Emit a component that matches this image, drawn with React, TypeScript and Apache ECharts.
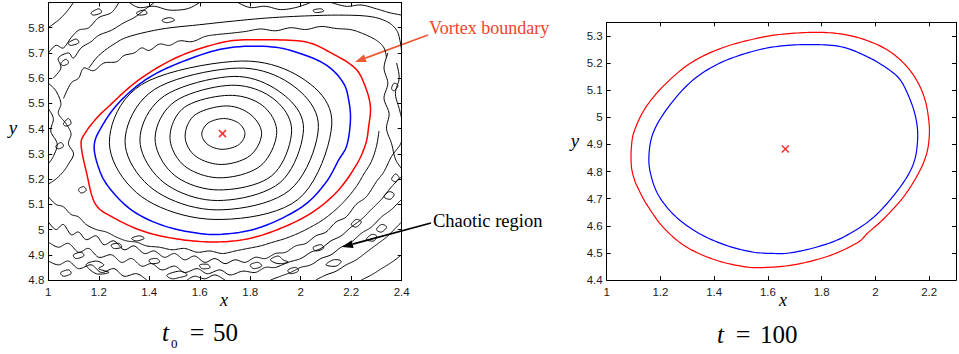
import React, { useEffect, useRef } from "react";
import * as echarts from "echarts";

// ---------- Left panel (t0 = 50) ----------
const leftCenter = [[1.69, 5.38]];

const leftRed = [
  [1.13, 5.335], [1.145, 5.381], [1.19, 5.44], [1.238, 5.487], [1.357, 5.592], [1.515, 5.685],
  [1.7, 5.744], [1.85, 5.752], [2.018, 5.744], [2.124, 5.698], [2.216, 5.639],
  [2.256, 5.566], [2.276, 5.487], [2.269, 5.407], [2.256, 5.335], [2.216, 5.249],
  [2.137, 5.143], [2.018, 5.051], [1.847, 4.978], [1.7, 4.952], [1.542, 4.958],
  [1.383, 4.991], [1.251, 5.051], [1.185, 5.104], [1.152, 5.223],
];

const leftBlue = [
  [1.182, 5.335], [1.211, 5.407], [1.277, 5.5], [1.383, 5.592], [1.515, 5.659],
  [1.7, 5.718], [1.886, 5.724], [2.018, 5.691], [2.111, 5.645], [2.17, 5.579],
  [2.19, 5.513], [2.197, 5.434], [2.183, 5.335], [2.15, 5.275], [2.097, 5.183],
  [2.005, 5.09], [1.847, 5.011], [1.7, 4.982], [1.581, 4.987], [1.449, 5.018],
  [1.33, 5.077], [1.238, 5.17], [1.198, 5.249],
];

const leftRing1 = [[1.608, 5.378], [1.633, 5.336], [1.69, 5.318], [1.754, 5.336], [1.779, 5.38], [1.754, 5.422], [1.695, 5.44], [1.633, 5.422]];
const leftRing2 = [[1.542, 5.37], [1.582, 5.292], [1.685, 5.258], [1.798, 5.292], [1.845, 5.38], [1.8, 5.457], [1.705, 5.49], [1.582, 5.455]];
const leftRing3 = [[1.482, 5.365], [1.54, 5.252], [1.68, 5.205], [1.84, 5.252], [1.905, 5.385], [1.848, 5.492], [1.715, 5.532], [1.54, 5.485]];
const leftRing4 = [[1.423, 5.36], [1.5, 5.215], [1.675, 5.157], [1.885, 5.213], [1.964, 5.392], [1.89, 5.52], [1.725, 5.572], [1.502, 5.508]];
const leftRing5 = [[1.363, 5.355], [1.458, 5.186], [1.67, 5.115], [1.918, 5.186], [2.011, 5.4], [1.925, 5.54], [1.735, 5.607], [1.46, 5.53]];
const leftRing6 = [[1.304, 5.35], [1.415, 5.16], [1.665, 5.078], [1.955, 5.155], [2.07, 5.405], [1.97, 5.57], [1.75, 5.64], [1.42, 5.555]];
const leftRing7 = [[1.242, 5.345], [1.37, 5.13], [1.66, 5.04], [1.99, 5.12], [2.123, 5.415], [2.02, 5.59], [1.765, 5.668], [1.37, 5.575]];
const leftRings = [leftRing1, leftRing2, leftRing3, leftRing4, leftRing5, leftRing6, leftRing7];

// chaotic contours outside the vortex (open lines)
const chaosTop = [
  [[1.16, 5.64], [1.2, 5.69], [1.26, 5.735], [1.32, 5.765], [1.45, 5.795], [1.6, 5.812], [1.72, 5.825], [1.86, 5.838], [2.0, 5.846], [2.15, 5.85], [2.27, 5.845], [2.34, 5.825], [2.38, 5.79], [2.395, 5.74], [2.4, 5.7]],
  [[1.06, 5.52], [1.09, 5.58], [1.12, 5.6], [1.14, 5.64], [1.18, 5.63], [1.22, 5.66], [1.27, 5.665], [1.3, 5.69], [1.34, 5.7], [1.37, 5.72], [1.4, 5.71], [1.44, 5.735], [1.48, 5.73], [1.52, 5.748], [1.57, 5.745], [1.62, 5.765], [1.66, 5.772], [1.72, 5.778], [1.78, 5.785], [1.84, 5.795], [1.9, 5.788], [1.96, 5.8], [2.02, 5.793], [2.08, 5.805], [2.14, 5.797], [2.2, 5.792], [2.25, 5.775], [2.3, 5.75], [2.33, 5.72], [2.34, 5.68]],
  [[1.0, 5.7], [1.03, 5.73], [1.06, 5.72], [1.09, 5.76], [1.12, 5.79], [1.16, 5.8], [1.2, 5.84], [1.25, 5.86], [1.28, 5.9]],
  [[1.0, 5.8], [1.04, 5.83], [1.07, 5.86], [1.1, 5.9]],
  [[1.02, 5.6], [1.05, 5.64], [1.04, 5.68], [1.08, 5.7], [1.1, 5.68], [1.13, 5.72], [1.17, 5.745], [1.2, 5.77], [1.25, 5.79], [1.3, 5.82], [1.34, 5.84], [1.38, 5.87], [1.42, 5.9]],
  [[1.32, 5.9], [1.36, 5.88], [1.42, 5.885], [1.48, 5.87], [1.55, 5.875], [1.6, 5.9]],
  [[1.75, 5.9], [1.8, 5.88], [1.86, 5.885], [1.92, 5.872], [1.98, 5.88], [2.04, 5.9]],
  [[2.12, 5.9], [2.18, 5.885], [2.24, 5.89], [2.3, 5.875], [2.35, 5.86], [2.4, 5.85]],
];

const chaosSides = [
  [[2.345, 5.7], [2.33, 5.64], [2.345, 5.58], [2.33, 5.52], [2.35, 5.46], [2.34, 5.4], [2.36, 5.34], [2.375, 5.28], [2.4, 5.24]],
  [[2.38, 5.66], [2.39, 5.6], [2.375, 5.54], [2.39, 5.48], [2.4, 5.44]],
  [[1.0, 5.58], [1.03, 5.55], [1.05, 5.5], [1.04, 5.46], [1.07, 5.42], [1.09, 5.38], [1.08, 5.34], [1.1, 5.3], [1.08, 5.26], [1.06, 5.23], [1.03, 5.2], [1.0, 5.18]],
  [[1.0, 5.48], [1.02, 5.44], [1.01, 5.39], [1.035, 5.34], [1.02, 5.29], [1.0, 5.26]],
];

const chaosBottom = [
  [[1.0, 5.13], [1.03, 5.1], [1.06, 5.09], [1.09, 5.06], [1.12, 5.05], [1.15, 5.02], [1.19, 5.0], [1.23, 4.99], [1.27, 4.97], [1.31, 4.955], [1.35, 4.95], [1.39, 4.935], [1.44, 4.93], [1.49, 4.92], [1.54, 4.925], [1.59, 4.91], [1.64, 4.915], [1.69, 4.905], [1.74, 4.915], [1.79, 4.925], [1.84, 4.935], [1.89, 4.95], [1.94, 4.965], [1.99, 4.985], [2.04, 5.01], [2.09, 5.04], [2.14, 5.08], [2.18, 5.12], [2.22, 5.17], [2.25, 5.22], [2.28, 5.27], [2.3, 5.33], [2.31, 5.39]],
  [[1.0, 5.03], [1.03, 5.0], [1.06, 5.02], [1.09, 4.98], [1.12, 4.99], [1.15, 4.96], [1.19, 4.975], [1.22, 4.94], [1.26, 4.955], [1.3, 4.92], [1.34, 4.935], [1.38, 4.905], [1.42, 4.915], [1.46, 4.89], [1.5, 4.905], [1.54, 4.88], [1.58, 4.895], [1.62, 4.87], [1.66, 4.885], [1.7, 4.865], [1.74, 4.88], [1.78, 4.87], [1.82, 4.89], [1.86, 4.885], [1.9, 4.905], [1.94, 4.91], [1.98, 4.935], [2.02, 4.945], [2.06, 4.975], [2.1, 4.99], [2.14, 5.03], [2.18, 5.05], [2.22, 5.1], [2.26, 5.13], [2.3, 5.19], [2.33, 5.23], [2.36, 5.29], [2.39, 5.33], [2.4, 5.35]],
  [[1.0, 4.95], [1.04, 4.93], [1.08, 4.945], [1.12, 4.91], [1.16, 4.925], [1.2, 4.89], [1.25, 4.9], [1.29, 4.87], [1.33, 4.885], [1.37, 4.855], [1.41, 4.865], [1.45, 4.84], [1.5, 4.855], [1.54, 4.83], [1.59, 4.845], [1.63, 4.825], [1.68, 4.84], [1.72, 4.82], [1.77, 4.835], [1.82, 4.83], [1.86, 4.85], [1.9, 4.85], [1.95, 4.87], [2.0, 4.885], [2.04, 4.91], [2.08, 4.925], [2.12, 4.955], [2.16, 4.975], [2.2, 5.01], [2.24, 5.04], [2.28, 5.08], [2.32, 5.12], [2.36, 5.17], [2.4, 5.21]],
  [[1.0, 4.875], [1.04, 4.86], [1.08, 4.875], [1.12, 4.845], [1.17, 4.86], [1.21, 4.83], [1.26, 4.845], [1.3, 4.815], [1.35, 4.825], [1.39, 4.8]],
  [[1.88, 4.8], [1.92, 4.815], [1.96, 4.83], [2.0, 4.85], [2.04, 4.86], [2.08, 4.885], [2.12, 4.9], [2.16, 4.93], [2.2, 4.95], [2.24, 4.985], [2.28, 5.01], [2.32, 5.05], [2.36, 5.08], [2.4, 5.12]],
  [[2.06, 4.8], [2.1, 4.82], [2.14, 4.835], [2.18, 4.86], [2.22, 4.88], [2.26, 4.91], [2.3, 4.94], [2.34, 4.97], [2.37, 5.0], [2.4, 5.03]],
  [[2.24, 4.8], [2.28, 4.82], [2.32, 4.845], [2.36, 4.87], [2.4, 4.9]],
  [[1.55, 4.8], [1.58, 4.815], [1.62, 4.805], [1.66, 4.82], [1.7, 4.8]],
];

// small closed contours in the chaotic region
const chaosBlobs = [
  [[1.1, 4.9], [1.13, 4.91], [1.14, 4.895], [1.11, 4.885]],
  [[1.4, 4.88], [1.43, 4.885], [1.44, 4.87], [1.41, 4.865]],
  [[1.6, 4.86], [1.63, 4.862], [1.64, 4.848], [1.61, 4.845]],
  [[1.25, 4.94], [1.28, 4.945], [1.29, 4.93], [1.26, 4.925]],
  [[1.8, 4.86], [1.83, 4.87], [1.845, 4.855], [1.815, 4.845]],
  [[2.05, 4.93], [2.08, 4.94], [2.09, 4.925], [2.06, 4.915]],
  [[2.2, 5.02], [2.22, 5.04], [2.24, 5.03], [2.22, 5.01]],
  [[1.05, 4.83], [1.08, 4.84], [1.09, 4.825], [1.06, 4.815]],
  [[1.95, 4.84], [1.98, 4.85], [1.99, 4.835], [1.96, 4.825]],
  [[2.3, 5.0], [2.32, 5.02], [2.34, 5.01], [2.32, 4.99]],
  [[1.35, 5.86], [1.38, 5.87], [1.39, 5.855], [1.36, 5.85]],
  [[1.05, 5.66], [1.07, 5.675], [1.08, 5.66], [1.06, 5.65]],
  [[2.36, 5.2], [2.375, 5.22], [2.39, 5.205], [2.375, 5.19]],
  [[1.03, 5.33], [1.05, 5.345], [1.06, 5.33], [1.04, 5.32]],
  [[1.15, 4.86], [1.19, 4.875], [1.22, 4.86], [1.2, 4.845], [1.24, 4.83], [1.19, 4.825]],
  [[1.47, 4.82], [1.52, 4.835], [1.55, 4.82], [1.52, 4.81], [1.49, 4.805]],
  [[1.88, 4.88], [1.91, 4.895], [1.93, 4.88], [1.95, 4.87], [1.91, 4.865]],
  [[2.1, 4.86], [2.13, 4.88], [2.16, 4.875], [2.14, 4.855]],
  [[2.26, 4.96], [2.28, 4.98], [2.3, 4.975], [2.29, 4.955]],
  [[2.33, 5.13], [2.35, 5.15], [2.37, 5.14], [2.355, 5.12]],
  [[1.12, 5.16], [1.14, 5.17], [1.15, 5.155], [1.13, 5.145]],
  [[1.06, 5.42], [1.08, 5.44], [1.09, 5.42], [1.07, 5.41]],
  [[1.45, 5.83], [1.48, 5.84], [1.5, 5.83], [1.47, 5.82]],
  [[2.05, 5.87], [2.08, 5.875], [2.09, 5.865], [2.06, 5.86]],
  [[2.36, 5.56], [2.37, 5.58], [2.385, 5.57], [2.37, 5.55]],
  [[1.33, 4.965], [1.36, 4.975], [1.38, 4.965], [1.35, 4.955]],
  [[1.08, 5.74], [1.11, 5.755], [1.12, 5.74], [1.09, 5.73]],
  [[1.17, 5.86], [1.2, 5.875], [1.21, 5.86], [1.18, 5.85]],
];

// ---------- Right panel (t = 100) ----------
const rightCenter = [[1.665, 4.883]];

const rightRed = [
  [1.798, 5.313], [1.688, 5.309], [1.589, 5.297], [1.442, 5.26], [1.319, 5.204], [1.221, 5.125],
  [1.147, 5.039], [1.104, 4.953], [1.092, 4.891], [1.092, 4.818], [1.104, 4.768], [1.117, 4.738],
  [1.147, 4.682], [1.209, 4.596], [1.295, 4.523], [1.405, 4.474], [1.516, 4.449], [1.602, 4.447],
  [1.712, 4.459], [1.835, 4.492], [1.933, 4.538], [1.972, 4.574], [2.032, 4.627], [2.105, 4.707],
  [2.16, 4.793], [2.191, 4.867], [2.201, 4.94], [2.197, 5.002], [2.185, 5.063], [2.16, 5.125],
  [2.118, 5.186], [2.056, 5.241], [1.982, 5.278], [1.896, 5.303],
];

const rightBlue = [
  [1.749, 5.268], [1.626, 5.26], [1.516, 5.235], [1.405, 5.192], [1.307, 5.125], [1.221, 5.026],
  [1.172, 4.94], [1.157, 4.854], [1.166, 4.781], [1.196, 4.707], [1.258, 4.633], [1.344, 4.572],
  [1.442, 4.529], [1.54, 4.504], [1.626, 4.498], [1.688, 4.501], [1.786, 4.523], [1.884, 4.56],
  [1.995, 4.633], [2.093, 4.744], [2.142, 4.83], [2.157, 4.916], [2.152, 4.99], [2.13, 5.063],
  [2.093, 5.137], [2.044, 5.18], [1.97, 5.223], [1.872, 5.26],
];

// ---------- styling ----------
const SANS = '"Liberation Sans", Arial, sans-serif';
const SERIF = '"Liberation Serif", "Times New Roman", serif';
const RED = "#ff0000";
const BLUE = "#0000ff";

const fmt = (v: number) => {
  const r = Math.round(v * 10) / 10;
  if (Math.abs(v - r) > 1e-6) return "";
  return String(r);
};

function makeAxis(kind: "x" | "y", grid: number, min: number, max: number, interval: number, pos: string, labels: boolean, hideAbove?: number) {
  return {
    type: "value",
    gridIndex: grid,
    position: pos,
    min,
    max,
    interval,
    axisLine: { show: true, onZero: false, lineStyle: { color: "#000", width: 1 } },
    axisTick: { show: true, inside: true, length: 4, lineStyle: { color: "#000", width: 1 } },
    axisLabel: {
      show: labels,
      color: "#1a1a1a",
      fontFamily: SANS,
      fontSize: 11.5,
      margin: kind === "x" ? 6 : 4,
      formatter: (v: number) => (hideAbove !== undefined && v > hideAbove ? "" : fmt(v)),
    },
    splitLine: { show: false },
  };
}

// Catmull-Rom curve through already-projected pixel points (drawing only)
function spline(pts: number[][], closed: boolean): number[][] {
  const n = pts.length;
  const out: number[][] = [];
  const get = (i: number) => {
    if (closed) return pts[((i % n) + n) % n];
    return pts[Math.max(0, Math.min(n - 1, i))];
  };
  const segs = closed ? n : n - 1;
  const steps = 10;
  for (let i = 0; i < segs; i++) {
    const p0 = get(i - 1), p1 = get(i), p2 = get(i + 1), p3 = get(i + 2);
    for (let s = 0; s < steps; s++) {
      const t = s / steps, t2 = t * t, t3 = t2 * t;
      const f = (a: number, b: number, c: number, d: number) =>
        0.5 * (2 * b + (-a + c) * t + (2 * a - 5 * b + 4 * c - d) * t2 + (-a + 3 * b - 3 * c + d) * t3);
      out.push([f(p0[0], p1[0], p2[0], p3[0]), f(p0[1], p1[1], p2[1], p3[1])]);
    }
  }
  out.push(closed ? out[0] : pts[n - 1]);
  return out;
}

// a contour drawn through the listed points, mapped with the axes' scales
function contour(data: number[][], color: string, width: number, idx: number, closed: boolean, z: number) {
  return {
    type: "custom",
    coordinateSystem: "cartesian2d",
    xAxisIndex: idx,
    yAxisIndex: idx,
    data,
    encode: { x: 0, y: 1 },
    clip: true,
    silent: true,
    z,
    renderItem: (params: any, api: any) => {
      if (params.dataIndex !== 0) return null;
      const pts = data.map((p) => api.coord(p));
      return {
        type: "polyline",
        shape: { points: spline(pts, closed) },
        style: { fill: "none", stroke: color, lineWidth: width, lineJoin: "round" },
      };
    },
  };
}

function arrow(from: number[], to: number[], color: string, width: number) {
  const dx = to[0] - from[0];
  const dy = to[1] - from[1];
  const len = Math.sqrt(dx * dx + dy * dy);
  const ux = dx / len;
  const uy = dy / len;
  const hl = 11;
  const hw = 4;
  const bx = to[0] - ux * hl;
  const by = to[1] - uy * hl;
  return [
    { type: "line", shape: { x1: from[0], y1: from[1], x2: bx, y2: by }, style: { stroke: color, lineWidth: width } },
    {
      type: "polygon",
      shape: { points: [to, [bx - uy * hw, by + ux * hw], [bx + uy * hw, by - ux * hw]] },
      style: { fill: color },
    },
  ];
}

function txt(text: string, x: number, y: number, size: number, opts: any = {}) {
  return {
    type: "text",
    x,
    y,
    style: {
      text,
      fill: opts.fill || "#000",
      fontFamily: opts.family || SERIF,
      fontSize: size,
      fontStyle: opts.italic ? "italic" : "normal",
      textAlign: opts.align || "left",
      textVerticalAlign: "middle",
    },
  };
}

export default function App() {
  const ref = useRef<HTMLDivElement>(null);
  useEffect(() => {
    if (!ref.current) return;
    const chart = echarts.init(ref.current, null, { renderer: "svg" });
    const series: any[] = [];
    [...chaosTop, ...chaosSides, ...chaosBottom].forEach((d) => series.push(contour(d, "#000", 1, 0, false, 2)));
    chaosBlobs.forEach((d) => series.push(contour(d, "#000", 1, 0, true, 2)));
    leftRings.forEach((d) => series.push(contour(d, "#000", 1, 0, true, 3)));
    series.push(contour(leftBlue, BLUE, 1.5, 0, true, 4));
    series.push(contour(leftRed, RED, 1.5, 0, true, 4));
    series.push(contour(rightBlue, BLUE, 1.2, 2, true, 4));
    series.push(contour(rightRed, RED, 1.2, 2, true, 4));
    const cross = {
      type: "scatter",
      symbol: "path://M0,0L10,10M10,0L0,10",
      symbolSize: 7,
      silent: true,
      z: 5,
      itemStyle: { color: "rgba(0,0,0,0)", borderColor: RED, borderWidth: 1.6 },
    };
    series.push({ ...cross, xAxisIndex: 0, yAxisIndex: 0, data: leftCenter });
    series.push({ ...cross, xAxisIndex: 2, yAxisIndex: 2, data: rightCenter });

    const ORANGE = "#ec5a34";
    const graphic: any[] = [
      txt("x", 224, 300, 18, { italic: true, align: "center" }),
      txt("y", 13, 127, 19, { italic: true, align: "center" }),
      txt("x", 783, 300, 18, { italic: true, align: "center" }),
      txt("y", 575, 140, 19, { italic: true, align: "center" }),
      txt("t", 162, 332, 25, { italic: true }),
      txt("0", 171, 343, 13),
      txt("=", 197, 332, 26, { align: "center" }),
      txt("50", 213, 332, 25),
      txt("t", 717, 334, 25, { italic: true }),
      txt("=", 743, 334, 26, { align: "center" }),
      txt("100", 760, 334, 25),
      txt("Vortex boundary", 429, 28, 18, { fill: "#f0442a" }),
      txt("Chaotic region", 433, 220.5, 18.5),
      ...arrow([428, 35], [355, 62], ORANGE, 1.8),
      ...arrow([431, 223], [342, 247], "#000", 1.8),
    ];

    chart.setOption({
      animation: false,
      backgroundColor: "#fff",
      grid: [
        { left: 48.3, top: 2.5, width: 353.4, height: 277.5 },
        { left: 606.7, top: 22.3, width: 353, height: 257.8 },
      ],
      xAxis: [
        makeAxis("x", 0, 1, 2.4, 0.2, "bottom", true),
        makeAxis("x", 0, 1, 2.4, 0.2, "top", false),
        makeAxis("x", 1, 1, 2.3, 0.2, "bottom", true, 2.25),
        makeAxis("x", 1, 1, 2.3, 0.2, "top", false),
      ],
      yAxis: [
        makeAxis("y", 0, 4.8, 5.9, 0.1, "left", true, 5.85),
        makeAxis("y", 0, 4.8, 5.9, 0.1, "right", false),
        makeAxis("y", 1, 4.4, 5.35, 0.1, "left", true, 5.32),
        makeAxis("y", 1, 4.4, 5.35, 0.1, "right", false),
      ],
      series,
      graphic,
    });
    return () => chart.dispose();
  }, []);
  return <div ref={ref} style={{ position: "absolute", left: 0, top: 0, width: 959, height: 354 }} />;
}
